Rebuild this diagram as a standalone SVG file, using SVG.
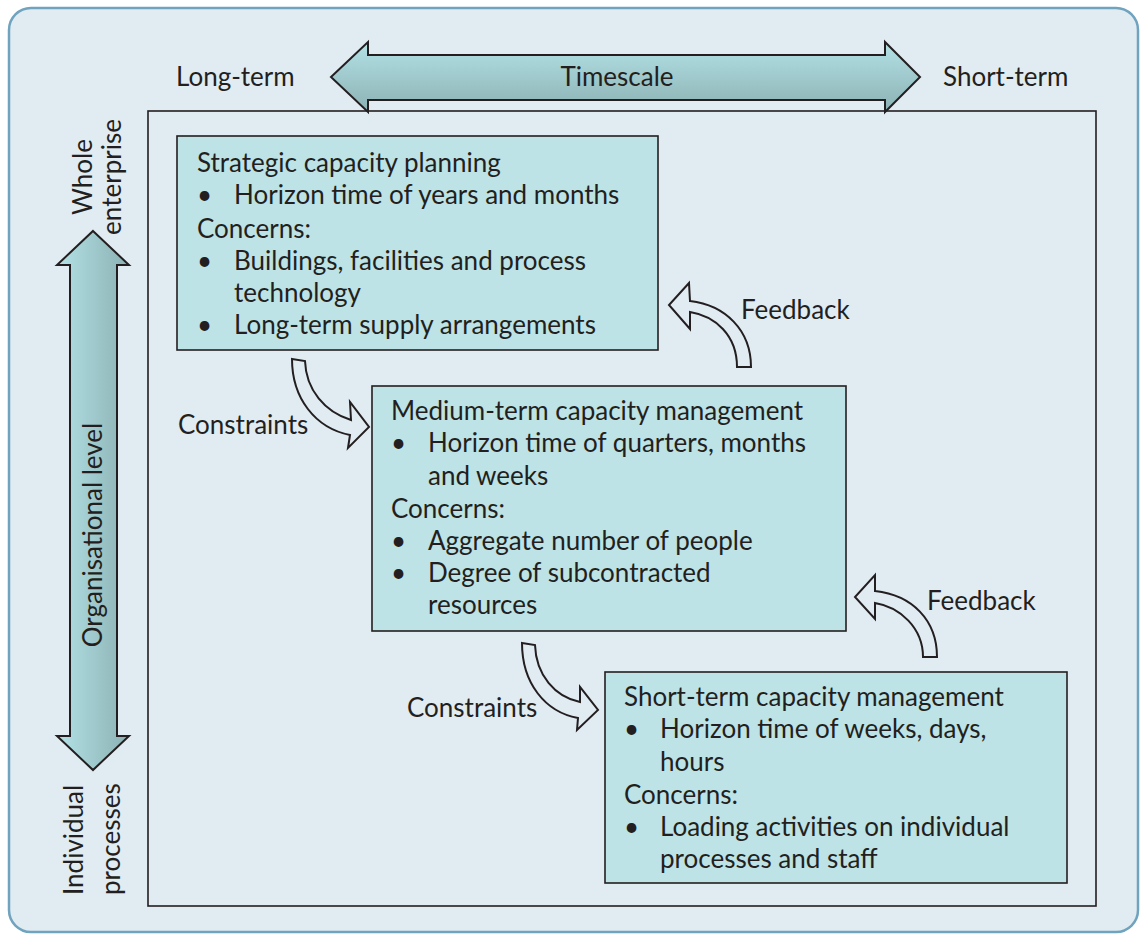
<svg xmlns="http://www.w3.org/2000/svg" width="1142" height="938" viewBox="0 0 1142 938">
<defs>
<linearGradient id="gv" x1="0" y1="0" x2="0" y2="1"><stop offset="0" stop-color="#b3e2e6"/><stop offset="1" stop-color="#8cb1b3"/></linearGradient>
<linearGradient id="gh" x1="0" y1="0" x2="1" y2="0"><stop offset="0" stop-color="#b3e2e6"/><stop offset="1" stop-color="#8cb1b3"/></linearGradient>
<style>
text{font-family:"Lato","Open Sans","Liberation Sans",sans-serif;font-size:26px;fill:#231f20}
.box{fill:#bde3e6;stroke:#231f20;stroke-width:1.6}
.ar{fill:#e1ebf2;stroke:#231f20;stroke-width:2;stroke-linejoin:miter}
.big{stroke:#231f20;stroke-width:2}
</style>
</defs>
<rect x="9" y="8" width="1129" height="924" rx="22" fill="#e1ebf2" stroke="#6fa3be" stroke-width="2.5"/>
<rect x="148" y="111" width="948" height="795" fill="none" stroke="#231f20" stroke-width="1.6"/>
<g id="timescale">
<path class="big" fill="url(#gv)" d="M331,77 L368,42 L368,55 L885,55 L885,42 L920,77 L885,112 L885,100 L368,100 L368,112 Z"/>
<text x="617" y="86" text-anchor="middle">Timescale</text>
<text x="176" y="86">Long-term</text>
<text x="943" y="86">Short-term</text>
</g>
<g id="orglevel">
<path class="big" fill="url(#gh)" d="M93,231 L129,265 L117,265 L117,736 L129,736 L93,770 L57,736 L70,736 L70,265 L57,265 Z"/>
<text transform="translate(102,535) rotate(-90)" text-anchor="middle">Organisational level</text>
<text transform="translate(92,177) rotate(-90)" text-anchor="middle">Whole</text>
<text transform="translate(121,177) rotate(-90)" text-anchor="middle">enterprise</text>
<text transform="translate(83,895) rotate(-90)">Individual</text>
<text transform="translate(120,895) rotate(-90)">processes</text>
</g>
<g id="strategic">
<rect class="box" x="177" y="136" width="481" height="214"/>
<text x="197" y="172">Strategic capacity planning</text>
<text x="197" y="204">•</text><text x="234" y="204">Horizon time of years and months</text>
<text x="197" y="238">Concerns:</text>
<text x="197" y="270">•</text><text x="234" y="270">Buildings, facilities and process</text>
<text x="234" y="302">technology</text>
<text x="197" y="334">•</text><text x="234" y="334">Long-term supply arrangements</text>
</g>
<g id="medium">
<rect class="box" x="372" y="386" width="474" height="245"/>
<text x="391" y="420">Medium-term capacity management</text>
<text x="391" y="452">•</text><text x="428" y="452">Horizon time of quarters, months</text>
<text x="428" y="485">and weeks</text>
<text x="391" y="518">Concerns:</text>
<text x="391" y="550">•</text><text x="428" y="550">Aggregate number of people</text>
<text x="391" y="582">•</text><text x="428" y="582">Degree of subcontracted</text>
<text x="428" y="614">resources</text>
</g>
<g id="short">
<rect class="box" x="605" y="672" width="462" height="211"/>
<text x="624" y="706">Short-term capacity management</text>
<text x="624" y="738">•</text><text x="660" y="738">Horizon time of weeks, days,</text>
<text x="660" y="771">hours</text>
<text x="624" y="804">Concerns:</text>
<text x="624" y="836">•</text><text x="660" y="836">Loading activities on individual</text>
<text x="660" y="868">processes and staff</text>
</g>
<g id="connectors">
<path class="ar" d="M292,359 L305,361 C306,390 325,412 351,420 L350,402 L369,427 L348,448 L350,435 C315,428 292,398 292,359 Z"/>
<text x="178" y="434">Constraints</text>
<path class="ar" d="M522,643 L535,645 C536,675 555,697 580,702 L580,687 L598,710 L577,730 L578,718 C545,712 522,683 522,643 Z"/>
<text x="407" y="717">Constraints</text>
<path class="ar" d="M737,367 L751,367 C751,330 725,305 690,301 L689,283 L669,305 L690,329 L690,312 C715,316 737,335 737,367 Z"/>
<text x="741" y="319">Feedback</text>
<path class="ar" d="M923,657 L937,657 C937,620 912,595 875,591 L875,575 L855,597 L875,619 L875,603 C900,607 923,628 923,657 Z"/>
<text x="927" y="610">Feedback</text>
</g>
</svg>
